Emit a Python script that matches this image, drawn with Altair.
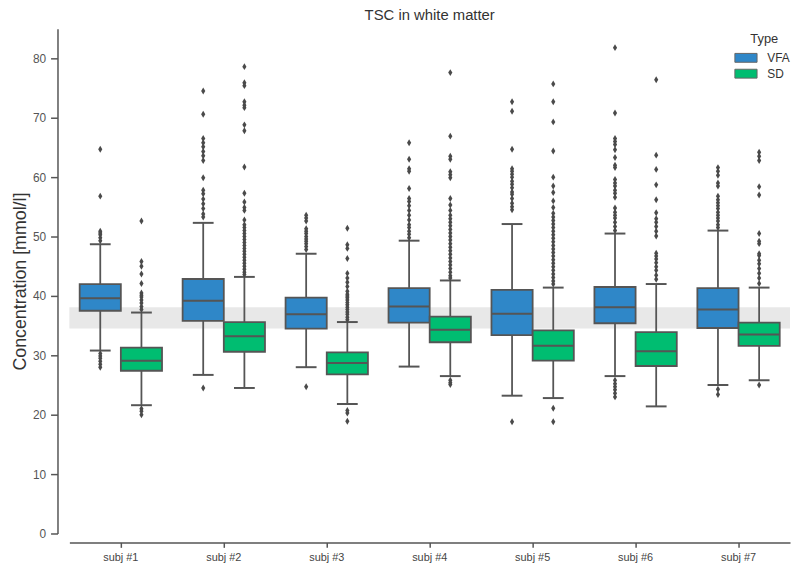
import altair as alt
import pandas as pd

subjects = ["subj #1", "subj #2", "subj #3", "subj #4", "subj #5", "subj #6", "subj #7"]
types = ["VFA", "SD"]
colors = ["#2F87C8", "#00BD71"]

# box statistics
q1_vfa = [37.5, 35.8, 34.5, 35.5, 33.4, 35.4, 34.6]
med_vfa = [39.6, 39.2, 36.9, 38.2, 37.0, 38.1, 37.7]
q3_vfa = [42.0, 42.85, 39.7, 41.3, 41.0, 41.5, 41.3]
lo_vfa = [30.8, 26.7, 28.0, 28.1, 23.2, 26.5, 25.0]
hi_vfa = [48.7, 52.3, 47.1, 49.3, 52.1, 50.5, 51.0]

q1_sd = [27.4, 30.6, 26.8, 32.2, 29.1, 28.2, 31.6]
med_sd = [29.1, 33.2, 28.7, 34.3, 31.6, 30.7, 33.5]
q3_sd = [31.3, 35.6, 30.5, 36.5, 34.2, 33.9, 35.5]
lo_sd = [21.6, 24.5, 21.8, 26.5, 22.8, 21.4, 25.8]
hi_sd = [37.2, 43.2, 35.6, 42.6, 41.4, 42.0, 41.4]

# outliers
o_vfa_1 = [64.7, 56.8, 50.9, 50.6, 50.3, 49.8, 49.3, 30.3, 29.9, 29.5, 29.0, 28.5, 28.0]
o_sd_1 = [52.6, 45.8, 45.0, 43.7, 42.1, 40.5, 40.1, 39.8, 39.3, 38.8, 38.2, 37.7, 21.0, 20.6, 20.0]
o_vfa_2 = [74.5, 70.6, 66.5, 65.8, 65.1, 64.3, 63.6, 62.8, 59.9, 57.8, 57.2, 56.3, 55.5, 54.7, 53.8, 53.3, 24.5]
o_sd_2 = [78.6, 75.9, 75.4, 72.7, 72.1, 71.7, 68.8, 67.8, 61.7, 57.3, 55.8, 54.9, 54.4, 52.8, 52.0, 51.5,
          51.0, 50.5, 50.0, 49.5, 49.0, 48.5, 48.0, 47.5, 47.0, 46.5, 46.0, 45.5, 45.0, 44.5, 44.0, 43.6]
o_vfa_3 = [53.6, 53.1, 52.6, 51.3, 50.9, 50.5, 50.0, 49.6, 49.2, 48.8, 48.3, 47.8, 24.7]
o_sd_3 = [51.4, 48.6, 48.0, 46.3, 43.8, 43.0, 42.3, 41.6, 40.8, 40.3, 40.0, 39.7, 39.3, 38.9, 38.5, 38.1,
          37.7, 37.3, 36.9, 36.4, 36.0, 20.7, 20.3, 18.9]
o_vfa_4 = [65.8, 63.0, 61.4, 61.0, 58.1, 56.4, 55.9, 55.2, 54.4, 53.6, 52.8, 52.0, 51.5, 50.9, 50.4, 49.8]
o_sd_4 = [77.6, 66.9, 63.5, 63.0, 60.9, 60.4, 59.9, 56.4, 55.3, 54.4, 53.6, 53.0, 52.4, 51.8, 51.2, 50.6,
          50.0, 49.4, 48.8, 48.2, 47.6, 47.0, 46.4, 45.8, 45.2, 44.6, 44.0, 43.4, 43.0, 25.8, 25.4, 25.1]
o_vfa_5 = [72.7, 71.1, 64.7, 61.4, 61.0, 60.5, 60.0, 59.3, 58.8, 58.2, 57.5, 57.1, 56.4, 55.6, 55.0, 54.5, 18.8]
o_sd_5 = [75.7, 72.7, 69.3, 64.4, 60.0, 58.5, 57.4, 56.0, 54.9, 53.9, 53.3, 52.7, 52.1, 51.5, 50.9, 50.3,
          49.7, 49.1, 48.5, 47.9, 47.3, 46.7, 46.1, 45.5, 44.9, 44.3, 43.7, 43.1, 42.5, 42.0, 21.1, 18.8]
o_vfa_6 = [81.8, 70.8, 66.5, 66.0, 65.5, 64.6, 63.3, 62.0, 61.6, 59.6, 59.0, 58.5, 57.8, 57.3, 56.6, 54.8,
           54.1, 53.6, 53.1, 52.4, 51.7, 51.0, 25.8, 25.2, 24.7, 24.2, 23.6, 23.0]
o_sd_6 = [76.4, 63.7, 61.3, 58.7, 56.2, 54.0, 53.0, 52.4, 51.7, 50.9, 50.1, 47.2, 46.7, 46.2, 45.6, 44.9,
          44.3, 43.5, 42.8]
o_vfa_7 = [61.6, 61.0, 60.3, 59.0, 58.5, 56.8, 56.2, 55.7, 55.2, 54.7, 54.1, 53.6, 53.1, 52.6, 52.0, 51.5,
           24.3, 23.4]
o_sd_7 = [64.2, 63.5, 62.8, 58.4, 57.0, 50.5, 49.2, 48.8, 47.1, 46.8, 46.0, 45.4, 44.6, 43.8, 43.0, 42.1, 25.0]

band_lo = [34.5]
band_hi = [38.1]

# ---- build tables ----
rows = []
for i, s in enumerate(subjects):
    rows.append(dict(subject=s, type="VFA", q1=q1_vfa[i], median=med_vfa[i], q3=q3_vfa[i], lo=lo_vfa[i], hi=hi_vfa[i]))
    rows.append(dict(subject=s, type="SD", q1=q1_sd[i], median=med_sd[i], q3=q3_sd[i], lo=lo_sd[i], hi=hi_sd[i]))
boxes = pd.DataFrame(rows)

out_v = [o_vfa_1, o_vfa_2, o_vfa_3, o_vfa_4, o_vfa_5, o_vfa_6, o_vfa_7]
out_s = [o_sd_1, o_sd_2, o_sd_3, o_sd_4, o_sd_5, o_sd_6, o_sd_7]
orows = []
for i, s in enumerate(subjects):
    for v in out_v[i]:
        orows.append(dict(subject=s, type="VFA", value=v))
    for v in out_s[i]:
        orows.append(dict(subject=s, type="SD", value=v))
outliers = pd.DataFrame(orows)
band = pd.DataFrame(dict(lo=band_lo, hi=band_hi))

W, H = 728, 510
GRAY = "#555555"
FONT = "Liberation Sans"

xscale = alt.Scale(type="band", domain=subjects, paddingInner=0.2, paddingOuter=0.1)
oscale = alt.Scale(type="band", domain=types, paddingInner=0, paddingOuter=0)
yscale = alt.Scale(domain=[0, 85], nice=False, zero=True)

xaxis = alt.Axis(title=None, offset=9, domainColor=GRAY, domainWidth=1.5, tickColor=GRAY, tickWidth=1.5,
                 tickSize=5, labelColor="#444", labelFontSize=11, labelFont=FONT, labelPadding=4, grid=False,
                 labelAngle=0)
yaxis = alt.Axis(title="Concentration [mmol/l]", values=[0, 10, 20, 30, 40, 50, 60, 70, 80], offset=12,
                 domainColor=GRAY, domainWidth=1.5, tickColor=GRAY, tickWidth=1.5, tickSize=7,
                 labelColor="#555", labelFontSize=12, labelFont=FONT, labelPadding=5, grid=False,
                 titleFont=FONT, titleFontSize=18, titleFontWeight="normal", titleColor="#333", titlePadding=3)

X = alt.X("subject:N", scale=xscale, axis=xaxis)
XO = alt.XOffset("type:N", scale=oscale)

def Y(field):
    return alt.Y(field, type="quantitative", scale=yscale, axis=yaxis)

band_layer = alt.Chart(band).mark_rect(color="#e8e8e8").encode(
    y=Y("lo"), y2="hi:Q", x=alt.value(0), x2=alt.value(W)
)

whisk = alt.Chart(boxes).mark_rule(color=GRAY, strokeWidth=1.8).encode(
    x=X, xOffset=XO, y=Y("lo"), y2="hi:Q"
)

legend = alt.Legend(
    title="Type", orient="none", legendX=676, legendY=4, titleFont=FONT, titleFontSize=13,
    titleFontWeight="normal", titleColor="#333", titleAnchor="middle", labelFont=FONT, labelFontSize=12,
    labelColor="#333", symbolType="M-1.6,-0.64H1.6V0.64H-1.6Z", symbolSize=196, symbolStrokeColor="#666",
    symbolStrokeWidth=1, rowPadding=2, labelOffset=14, padding=0, titlePadding=5
)

box = alt.Chart(boxes).mark_bar(stroke=GRAY, strokeWidth=1.8, opacity=1).encode(
    x=X, xOffset=XO, y=Y("q1"), y2="q3:Q",
    color=alt.Color("type:N", scale=alt.Scale(domain=types, range=colors), legend=legend)
)

med = alt.Chart(boxes).mark_tick(color=GRAY, size=41, thickness=2, opacity=1).encode(
    x=X, xOffset=XO, y=Y("median")
)
cap_lo = alt.Chart(boxes).mark_tick(color=GRAY, size=21, thickness=2, opacity=1).encode(
    x=X, xOffset=XO, y=Y("lo")
)
cap_hi = alt.Chart(boxes).mark_tick(color=GRAY, size=21, thickness=2, opacity=1).encode(
    x=X, xOffset=XO, y=Y("hi")
)

pts = alt.Chart(outliers).mark_point(shape="M0,-1L0.6,0L0,1L-0.6,0Z", filled=True, size=49,
                                     color="#4a4a4a", opacity=1).encode(
    x=X, xOffset=XO, y=Y("value")
)

chart = alt.layer(band_layer, whisk, box, med, cap_lo, cap_hi, pts).properties(
    width=W, height=H,
    title=alt.TitleParams("TSC in white matter", font=FONT, fontSize=15, fontWeight="normal",
                          color="#333", anchor="middle", offset=6),
    padding={"left": 62, "top": 18, "right": 2, "bottom": 31},
    autosize=alt.AutoSizeParams(type="none"),
).configure_view(stroke=None)

chart.save("out.html", embed_options={"renderer": "svg", "actions": False})
